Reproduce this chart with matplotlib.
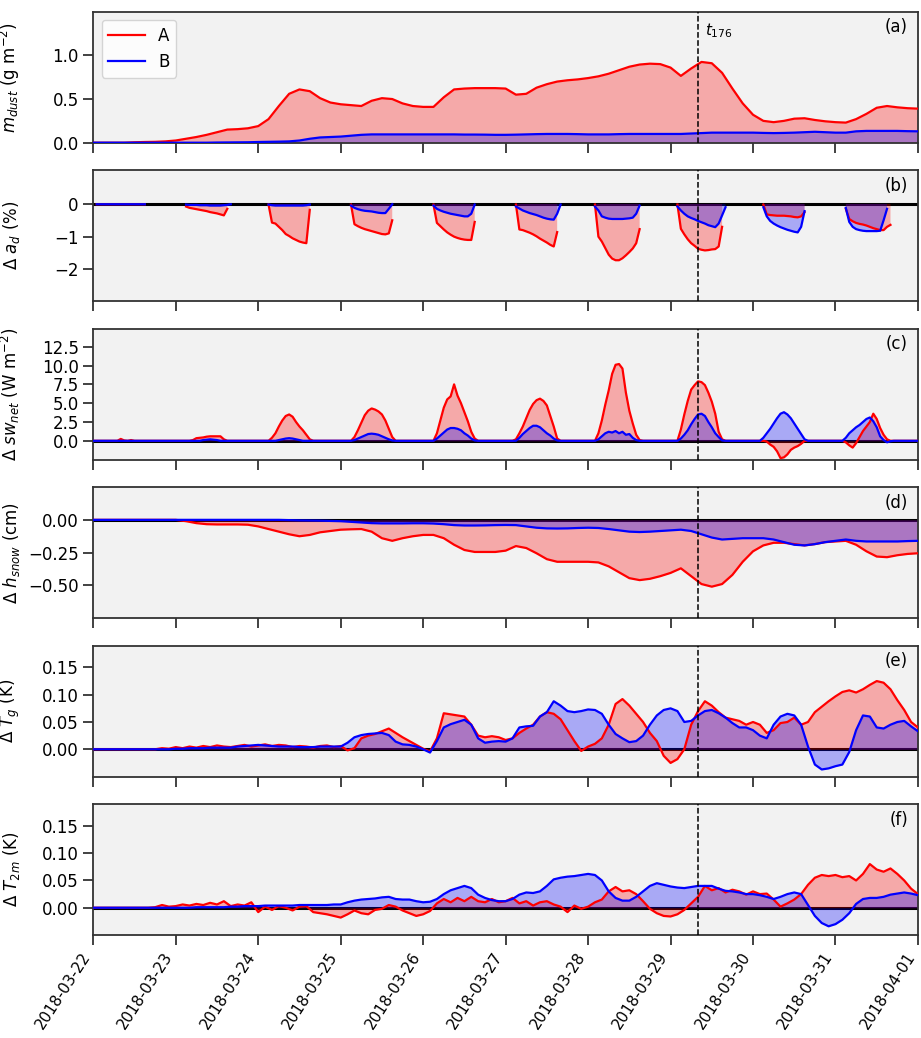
import numpy as np
import matplotlib
matplotlib.use("Agg")
import matplotlib.pyplot as plt
import matplotlib.dates as mdates

# hourly model output, 2018-03-22 00:00 .. 2018-04-01 00:00
start = np.datetime64("2018-03-22T00:00")
n_hours = 241
t_mark = 176

# (a) dust mass, every 3 h
mdust_A = [0.00, 0.00, 0.00, 0.00, 0.005, 0.008, 0.01, 0.015,
           0.025, 0.045, 0.065, 0.09, 0.12, 0.15, 0.155, 0.165,
           0.19, 0.27, 0.42, 0.56, 0.61, 0.59, 0.51, 0.46,
           0.44, 0.43, 0.42, 0.48, 0.51, 0.50, 0.45, 0.42,
           0.41, 0.41, 0.52, 0.61, 0.62, 0.625, 0.625, 0.625,
           0.62, 0.55, 0.56, 0.63, 0.67, 0.70, 0.715, 0.725,
           0.74, 0.76, 0.79, 0.83, 0.87, 0.895, 0.905, 0.90,
           0.86, 0.765, 0.85, 0.925, 0.91, 0.80, 0.62, 0.45,
           0.32, 0.25, 0.235, 0.25, 0.275, 0.28, 0.26, 0.245,
           0.235, 0.23, 0.27, 0.33, 0.40, 0.42, 0.405, 0.395,
           0.39]
mdust_B = [0, 0, 0, 0, 0, 0, 0, 0,
           0, 0, 0, 0, 0.002, 0.003, 0.004, 0.005,
           0.008, 0.01, 0.012, 0.015, 0.025, 0.045, 0.06, 0.065,
           0.07, 0.08, 0.09, 0.095, 0.095, 0.095, 0.095, 0.095,
           0.095, 0.095, 0.095, 0.095, 0.093, 0.093, 0.092, 0.09,
           0.09, 0.092, 0.095, 0.098, 0.10, 0.10, 0.10, 0.098,
           0.095, 0.095, 0.095, 0.098, 0.10, 0.10, 0.10, 0.10,
           0.10, 0.10, 0.105, 0.11, 0.115, 0.115, 0.115, 0.115,
           0.115, 0.112, 0.11, 0.112, 0.115, 0.12, 0.125, 0.12,
           0.115, 0.115, 0.13, 0.135, 0.135, 0.135, 0.135, 0.132,
           0.13]

# (b) albedo change, daylight hours only (first hour of each segment)
nan = np.nan
ad_start = [1, 27, 51, 75, 99, 123, 146, 170, 195, 219]
ad_A = [[-0.01] * 15,
        [-0.08, -0.12, -0.14, -0.16, -0.18, -0.2, -0.22, -0.25, -0.27, -0.29, -0.32, -0.35, -0.15, nan],
        [-0.02, -0.57, -0.6, -0.7, -0.8, -0.92, -0.98, -1.05, -1.1, -1.15, -1.18, -1.2, -0.18],
        [-0.02, -0.62, -0.68, -0.73, -0.77, -0.8, -0.83, -0.86, -0.89, -0.92, -0.93, -0.9, -0.5],
        [-0.02, -0.58, -0.68, -0.78, -0.87, -0.94, -1.0, -1.04, -1.07, -1.09, -1.1, -1.1, -0.55],
        [-0.02, -0.78, -0.8, -0.84, -0.88, -0.93, -0.99, -1.06, -1.12, -1.18, -1.25, -1.3, -0.86, nan],
        [-0.02, -1.0, -1.15, -1.35, -1.55, -1.67, -1.72, -1.72, -1.66, -1.57, -1.47, -1.36, -1.2, -0.77],
        [-0.02, -0.76, -0.93, -1.08, -1.2, -1.28, -1.37, -1.4, -1.42, -1.41, -1.39, -1.38, -1.3, -0.7, nan],
        [-0.02, -0.32, -0.34, -0.35, -0.36, -0.36, -0.36, -0.37, -0.38, -0.4, -0.41, -0.38, -0.25],
        [-0.15, -0.46, -0.53, -0.58, -0.61, -0.63, -0.66, -0.7, -0.74, -0.77, -0.8, -0.8, -0.7, -0.64]]
ad_B = [[-0.01] * 15,
        [-0.02, -0.03, -0.03, -0.03, -0.04, -0.04, -0.04, -0.05, -0.05, -0.05, -0.05, -0.04, -0.03, -0.01],
        [-0.02, -0.04, -0.05, -0.05, -0.05, -0.05, -0.05, -0.05, -0.05, -0.05, -0.05, -0.04, -0.02],
        [-0.05, -0.12, -0.16, -0.19, -0.21, -0.22, -0.23, -0.25, -0.27, -0.28, -0.28, -0.15, -0.01],
        [-0.05, -0.15, -0.2, -0.24, -0.27, -0.3, -0.32, -0.34, -0.36, -0.38, -0.38, -0.3, -0.02],
        [-0.08, -0.14, -0.2, -0.24, -0.28, -0.31, -0.34, -0.38, -0.42, -0.45, -0.47, -0.48, -0.3, -0.02],
        [-0.08, -0.2, -0.38, -0.42, -0.45, -0.46, -0.46, -0.46, -0.46, -0.45, -0.44, -0.42, -0.3, -0.05],
        [-0.08, -0.2, -0.3, -0.38, -0.43, -0.47, -0.52, -0.56, -0.6, -0.65, -0.68, -0.71, -0.6, -0.35, -0.1],
        [-0.1, -0.38, -0.52, -0.6, -0.66, -0.71, -0.75, -0.79, -0.82, -0.85, -0.87, -0.7, -0.22],
        [-0.12, -0.55, -0.7, -0.77, -0.8, -0.82, -0.83, -0.83, -0.83, -0.83, -0.82, -0.5, -0.15, nan]]

# (c) net shortwave change, hours 02..17 of each day (zero at night)
sw_A = [[0, 0, 0, 0, 0, 0, 0.25, 0.05, 0, 0.1, 0, 0, 0, 0, 0, 0],
        [0, 0, 0, 0.1, 0.35, 0.4, 0.45, 0.55, 0.6, 0.6, 0.6, 0.6, 0.2, 0, 0, 0],
        [0, 0, 0.4, 1.0, 1.9, 2.7, 3.3, 3.5, 3.2, 2.5, 1.9, 1.4, 0.8, 0.2, 0, 0],
        [0, 0, 0.5, 1.4, 2.4, 3.4, 4.0, 4.3, 4.15, 3.9, 3.5, 2.7, 1.6, 0.5, 0, 0],
        [0, 0, 1.0, 2.7, 4.4, 5.5, 5.9, 7.5, 6.0, 5.0, 3.8, 2.6, 1.2, 0.3, 0, 0],
        [0, 0.2, 1.0, 1.9, 3.0, 4.1, 4.9, 5.4, 5.6, 5.3, 4.7, 3.3, 1.9, 0.3, 0, 0],
        [0, 1.0, 2.7, 4.8, 6.7, 8.9, 10.1, 10.2, 9.6, 6.4, 4.0, 2.3, 0.8, 0.1, 0, 0],
        [0, 1.5, 3.5, 5.3, 6.8, 7.4, 7.9, 7.8, 7.4, 6.4, 5.2, 3.6, 1.2, 0.2, 0, 0],
        [0, 0, -0.1, -0.5, -0.8, -1.4, -2.3, -2.2, -1.8, -1.2, -0.9, -0.7, -0.4, 0, 0, 0],
        [0, -0.2, -0.6, -0.9, -0.3, 0.5, 1.3, 1.9, 2.5, 3.6, 2.9, 1.7, 0.8, 0.2, 0, 0]]
sw_B = [[0] * 16,
        [0, 0, 0, 0, 0, 0, 0.1, 0.15, 0.2, 0.15, 0.1, 0, 0, 0, 0, 0],
        [0, 0, 0, 0, 0.1, 0.2, 0.3, 0.35, 0.3, 0.2, 0.1, 0, 0, 0, 0, 0],
        [0, 0, 0.1, 0.3, 0.5, 0.7, 0.9, 0.95, 0.9, 0.8, 0.6, 0.4, 0.2, 0.05, 0, 0],
        [0, 0, 0.3, 0.7, 1.1, 1.5, 1.7, 1.7, 1.6, 1.4, 1.0, 0.7, 0.3, 0.05, 0, 0],
        [0, 0, 0.4, 0.9, 1.3, 1.7, 2.0, 2.0, 1.8, 1.4, 1.0, 0.7, 0.3, 0.05, 0, 0],
        [0, 0.2, 0.6, 1.0, 1.2, 1.1, 1.3, 1.0, 1.2, 0.8, 0.9, 0.4, 0.1, 0, 0, 0],
        [0, 0.3, 0.8, 1.4, 2.2, 2.9, 3.5, 3.6, 3.3, 2.5, 1.8, 1.0, 0.5, 0.05, 0, 0],
        [0, 0.4, 1.0, 1.6, 2.3, 3.0, 3.6, 3.8, 3.5, 3.0, 2.3, 1.6, 0.9, 0.2, 0, 0],
        [0, 0.4, 1.0, 1.4, 1.8, 2.1, 2.5, 2.9, 3.1, 2.6, 1.8, 0.6, 0.1, -0.2, -0.05, 0]]

# (d) snow depth change, every 3 h
hsnow_A = [0, 0, 0, 0, 0, 0, 0, 0,
           0, -0.01, -0.025, -0.033, -0.035, -0.035, -0.035, -0.037,
           -0.05, -0.07, -0.09, -0.11, -0.125, -0.115, -0.095, -0.085,
           -0.075, -0.072, -0.07, -0.09, -0.14, -0.16, -0.14, -0.125,
           -0.115, -0.115, -0.14, -0.19, -0.23, -0.245, -0.245, -0.245,
           -0.235, -0.2, -0.215, -0.255, -0.3, -0.32, -0.32, -0.32,
           -0.32, -0.325, -0.355, -0.4, -0.445, -0.46, -0.45, -0.43,
           -0.405, -0.37, -0.43, -0.49, -0.51, -0.49, -0.42, -0.32,
           -0.24, -0.195, -0.175, -0.175, -0.185, -0.195, -0.185, -0.17,
           -0.165, -0.16, -0.19, -0.24, -0.28, -0.285, -0.27, -0.26,
           -0.255]
hsnow_B = [0, 0, 0, 0, 0, 0, 0, 0,
           0, 0, 0, 0, 0, 0, 0, 0,
           0, 0, 0, -0.002, -0.004, -0.005, -0.006, -0.008,
           -0.01, -0.015, -0.02, -0.025, -0.027, -0.027, -0.027, -0.026,
           -0.026, -0.028, -0.033, -0.04, -0.043, -0.043, -0.042, -0.04,
           -0.039, -0.04, -0.05, -0.06, -0.065, -0.066, -0.065, -0.062,
           -0.06, -0.062, -0.07, -0.08, -0.09, -0.093, -0.09, -0.085,
           -0.08, -0.075, -0.085, -0.11, -0.135, -0.15, -0.145, -0.14,
           -0.14, -0.14, -0.15, -0.17, -0.19, -0.195, -0.185, -0.17,
           -0.16, -0.15, -0.16, -0.165, -0.165, -0.165, -0.165, -0.162,
           -0.16]

# (e) ground temperature change, every 2 h
tg_A = [0, 0, 0, 0, 0, 0, 0, 0, 0, 0,
        0.002, 0.001, 0.004, 0.002, 0.005, 0.003, 0.006, 0.004, 0.007, 0.005,
        0.004, 0.006, 0.008, 0.005, 0.007, 0.009, 0.006, 0.008, 0.007, 0.004,
        0.006, 0.005, 0.003, 0.006, 0.007, 0.004, 0.006, -0.002, 0.002, 0.02,
        0.025, 0.028, 0.033, 0.038, 0.03, 0.022, 0.015, 0.008, 0.001, -0.004,
        0.02, 0.066, 0.064, 0.062, 0.06, 0.045, 0.025, 0.022, 0.024, 0.022,
        0.017, 0.02, 0.03, 0.038, 0.045, 0.06, 0.068, 0.065, 0.055, 0.035,
        0.015, -0.003, 0.005, 0.01, 0.02, 0.045, 0.083, 0.092, 0.08, 0.065,
        0.05, 0.03, 0.015, -0.012, -0.025, -0.018, 0.0, 0.045, 0.07, 0.088,
        0.08, 0.068, 0.058, 0.055, 0.052, 0.045, 0.05, 0.045, 0.03, 0.035,
        0.048, 0.05, 0.058, 0.045, 0.05, 0.068, 0.078, 0.088, 0.097, 0.105,
        0.108, 0.104, 0.11, 0.118, 0.125, 0.122, 0.11, 0.09, 0.072, 0.05,
        0.04]
tg_B = [0, 0, 0, 0, 0, 0, 0, 0, 0, 0,
        0, 0, 0.001, 0.001, 0.002, 0.002, 0.002, 0.003, 0.003, 0.003,
        0.003, 0.005, 0.006, 0.007, 0.008, 0.007, 0.006, 0.005, 0.005, 0.005,
        0.004, 0.004, 0.004, 0.005, 0.005, 0.005, 0.005, 0.012, 0.022, 0.026,
        0.028, 0.029, 0.03, 0.026, 0.014, 0.009, 0.008, 0.005, 0.0, -0.006,
        0.015, 0.04, 0.046, 0.05, 0.054, 0.045, 0.02, 0.012, 0.014, 0.015,
        0.014, 0.02, 0.04, 0.042, 0.043, 0.06, 0.068, 0.088, 0.08, 0.07,
        0.068, 0.07, 0.073, 0.072, 0.065, 0.045, 0.028, 0.02, 0.013, 0.015,
        0.025, 0.045, 0.062, 0.072, 0.075, 0.07, 0.05, 0.052, 0.062, 0.07,
        0.072, 0.066, 0.058, 0.048, 0.04, 0.04, 0.035, 0.025, 0.02, 0.045,
        0.06, 0.065, 0.062, 0.045, 0.005, -0.028, -0.037, -0.035, -0.031, -0.028,
        -0.005, 0.035, 0.062, 0.06, 0.04, 0.038, 0.045, 0.05, 0.052, 0.042,
        0.033]

# (f) 2 m temperature change, every 2 h
t2m_A = [0, 0, 0, 0, 0, 0, 0, 0, 0, 0.001,
         0.005, 0.002, 0.003, 0.006, 0.004, 0.007, 0.005, 0.009, 0.006, 0.012,
         0.003, 0.006, 0.004, 0.01, -0.008, 0.002, -0.004, 0.003, 0.0, -0.005,
         0.002, 0.003, -0.008, -0.01, -0.012, -0.015, -0.018, -0.012, -0.005, -0.01,
         -0.012, -0.004, -0.002, 0.005, 0.002, -0.005, -0.01, -0.015, -0.012, -0.006,
         0.008, 0.016, 0.01, 0.018, 0.012, 0.02, 0.012, 0.01, 0.016, 0.01,
         0.012, 0.018, 0.008, 0.012, 0.004, 0.01, 0.012, 0.006, 0.002, -0.008,
         0.004, -0.002, 0.002, 0.01, 0.015, 0.03, 0.038, 0.03, 0.032, 0.025,
         0.012, -0.002, -0.01, -0.015, -0.016, -0.012, -0.004, 0.008, 0.02, 0.04,
         0.032, 0.036, 0.028, 0.033, 0.03, 0.024, 0.03, 0.025, 0.026, 0.015,
         0.002, 0.008, 0.015, 0.025, 0.042, 0.055, 0.06, 0.058, 0.06, 0.056,
         0.058, 0.05, 0.062, 0.08, 0.07, 0.066, 0.072, 0.062, 0.05, 0.035,
         0.025]
t2m_B = [0, 0, 0, 0, 0, 0, 0, 0, 0, 0,
         0, 0, 0, 0, 0, 0.001, 0.001, 0.001, 0.001, 0.001,
         0.002, 0.002, 0.003, 0.003, 0.003, 0.004, 0.004, 0.004, 0.004, 0.004,
         0.005, 0.005, 0.005, 0.005, 0.005, 0.006, 0.006, 0.01, 0.013, 0.015,
         0.016, 0.017, 0.019, 0.02, 0.016, 0.015, 0.015, 0.012, 0.01, 0.011,
         0.016, 0.025, 0.032, 0.036, 0.04, 0.036, 0.024, 0.018, 0.014, 0.012,
         0.012, 0.016, 0.024, 0.028, 0.027, 0.03, 0.04, 0.052, 0.055, 0.057,
         0.058, 0.06, 0.062, 0.06, 0.05, 0.03, 0.018, 0.013, 0.013, 0.02,
         0.03, 0.04, 0.045, 0.042, 0.039, 0.037, 0.036, 0.038, 0.04, 0.04,
         0.04, 0.035, 0.031, 0.03, 0.028, 0.025, 0.025, 0.023, 0.02, 0.016,
         0.02, 0.025, 0.028, 0.025, 0.005, -0.015, -0.028, -0.034, -0.03, -0.022,
         -0.01, 0.007, 0.016, 0.018, 0.018, 0.02, 0.024, 0.026, 0.028, 0.026,
         0.023]


def times(step):
    return start + np.arange(0, n_hours, step).astype("timedelta64[h]")


def place_segments(starts, segs, fill):
    out = np.full(n_hours, fill, dtype=float)
    for s, seg in zip(starts, segs):
        out[s:s + len(seg)] = seg
    return out


t1, t2, t3 = times(1), times(2), times(3)
sw_start = [24 * d + 2 for d in range(10)]

panels = [
    (t3, mdust_A, mdust_B, r"$m_{dust}$ (g m$^{-2}$)", (0, 1.5), [0.0, 0.5, 1.0]),
    (t1, place_segments(ad_start, ad_A, nan), place_segments(ad_start, ad_B, nan),
     r"Δ $a_d$ (%)", (-2.97, 1.03), [-2, -1, 0]),
    (t1, place_segments(sw_start, sw_A, 0.0), place_segments(sw_start, sw_B, 0.0),
     r"Δ $sw_{net}$ (W m$^{-2}$)", (-2.5, 14.9), [0, 2.5, 5, 7.5, 10, 12.5]),
    (t3, hsnow_A, hsnow_B, r"Δ $h_{snow}$ (cm)", (-0.75, 0.25), [-0.5, -0.25, 0.0]),
    (t2, tg_A, tg_B, r"Δ $T_g$ (K)", (-0.05, 0.19), [0, 0.05, 0.10, 0.15]),
    (t2, t2m_A, t2m_B, r"Δ $T_{2m}$ (K)", (-0.05, 0.19), [0, 0.05, 0.10, 0.15]),
]
letters = ["(a)", "(b)", "(c)", "(d)", "(e)", "(f)"]

plt.rcParams["font.size"] = 12
fig, axes = plt.subplots(6, 1, figsize=(9.21, 10.38), dpi=100, sharex=True)
fig.subplots_adjust(left=0.1013, right=0.9967, top=0.9887, bottom=0.0992, hspace=0.21)

t_line = start + np.timedelta64(t_mark, "h")

for i, (ax, (tt, ya, yb, ylab, ylim, yt)) in enumerate(zip(axes, panels)):
    ax.set_facecolor("#f2f2f2")
    ya = np.asarray(ya, dtype=float)
    yb = np.asarray(yb, dtype=float)
    if i > 0:
        ax.axhline(0, color="black", lw=2.2, zorder=1)
    ax.fill_between(tt, 0, ya, color="red", alpha=0.3, lw=0, zorder=2)
    ax.fill_between(tt, 0, yb, color="blue", alpha=0.3, lw=0, zorder=2)
    ax.plot(tt, ya, color="red", lw=1.6, label="A", zorder=3)
    ax.plot(tt, yb, color="blue", lw=1.6, label="B", zorder=3)
    ax.axvline(t_line, color="black", ls="--", lw=1.1, zorder=4)
    ax.set_ylim(*ylim)
    ax.set_yticks(yt)
    ax.set_ylabel(ylab, fontsize=12)
    ax.text(0.988, 0.95, letters[i], transform=ax.transAxes, ha="right", va="top", fontsize=12)
    for sp in ax.spines.values():
        sp.set_color("#333333")
        sp.set_linewidth(1.3)
    ax.tick_params(direction="out", length=7, width=1.3, color="#333333", labelsize=12)

axes[0].legend(loc="upper left", fontsize=12, handlelength=2.2)
axes[0].annotate(r"$t_{176}$", xy=(t_line, 1), xycoords=("data", "axes fraction"),
                 xytext=(5, -7), textcoords="offset points", ha="left", va="top", fontsize=11)

ax = axes[-1]
ax.set_xlim(start, start + np.timedelta64(240, "h"))
ax.xaxis.set_major_locator(mdates.DayLocator())
ax.xaxis.set_major_formatter(mdates.DateFormatter("%Y-%m-%d"))
plt.setp(ax.get_xticklabels(), rotation=57, ha="right", fontsize=11)
fig.align_ylabels(axes)

fig.savefig("out.png", dpi=100)
